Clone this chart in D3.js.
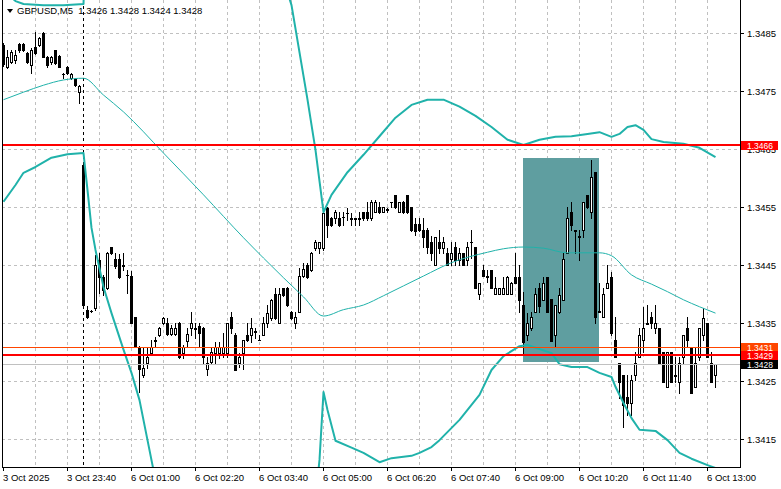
<!DOCTYPE html>
<html><head><meta charset="utf-8">
<script src="https://cdn.jsdelivr.net/npm/d3@7"></script>
<style>html,body{margin:0;padding:0;background:#fff;}svg{display:block;}</style>
</head><body>
<svg id="c" width="781" height="489"></svg>
<script>
// ---- DATA ----
const symbolTitle = "GBPUSD,M5";
const lastOHLC = ["1.3426", "1.3428", "1.3424", "1.3428"];
const opens = [1.34829,1.34791,1.34800,1.34803,1.34831,1.34831,1.34816,1.34795,1.34826,1.34829,
1.34850,1.34809,1.34800,1.34821,1.34810,1.34779,1.34791,1.34772,1.34771,1.34748,
1.34623,1.34373,1.34371,1.34376,1.34459,1.34429,1.34410,1.34481,1.34461,1.34461,
1.34450,1.34433,1.34431,1.34360,1.34309,1.34260,1.34281,1.34298,1.34319,1.34329,
1.34350,1.34350,1.34331,1.34331,1.34350,1.34298,1.34319,1.34341,1.34340,1.34345,
1.34341,1.34271,1.34283,1.34298,1.34298,1.34298,1.34298,1.34360,1.34329,1.34281,
1.34298,1.34329,1.34329,1.34335,1.34321,1.34329,1.34350,1.34359,1.34400,1.34350,
1.34410,1.34410,1.34369,1.34350,1.34369,1.34431,1.34450,1.34441,1.34479,1.34479,
1.34479,1.34548,1.34531,1.34531,1.34531,1.34533,1.34540,1.34531,1.34531,1.34531,
1.34541,1.34541,1.34531,1.34541,1.34550,1.34541,1.34545,1.34559,1.34571,1.34541,
1.34559,1.34571,1.34550,1.34521,1.34521,1.34510,1.34510,1.34490,1.34450,1.34490,
1.34479,1.34471,1.34461,1.34481,1.34459,1.34471,1.34459,1.34490,1.34481,1.34400,
1.34441,1.34431,1.34441,1.34400,1.34400,1.34400,1.34400,1.34400,1.34429,1.34429,
1.34381,1.34329,1.34341,1.34369,1.34410,1.34390,1.34429,1.34391,1.34329,1.34369,
1.34390,1.34471,1.34541,1.34510,1.34500,1.34510,1.34571,1.34541,1.34610,1.34369,
1.34360,1.34410,1.34429,1.34321,1.34281,1.34260,1.34223,1.34212,1.34260,1.34291,
1.34321,1.34350,1.34360,1.34341,1.34341,1.34300,1.34240,1.34300,1.34260,1.34248,
1.34291,1.34341,1.34309,1.34240,1.34291,1.34329,1.34350,1.34281,1.34260];
const highs = [1.34833,1.34821,1.34821,1.34821,1.34833,1.34833,1.34817,1.34824,1.34852,1.34843,
1.34852,1.34810,1.34810,1.34821,1.34812,1.34781,1.34793,1.34781,1.34772,1.34760,
1.34624,1.34379,1.34372,1.34467,1.34471,1.34433,1.34472,1.34481,1.34471,1.34469,
1.34471,1.34441,1.34440,1.34360,1.34310,1.34309,1.34309,1.34321,1.34326,1.34343,
1.34360,1.34359,1.34347,1.34350,1.34352,1.34312,1.34341,1.34369,1.34350,1.34350,
1.34343,1.34291,1.34307,1.34317,1.34317,1.34333,1.34350,1.34369,1.34333,1.34298,
1.34321,1.34350,1.34359,1.34341,1.34329,1.34360,1.34381,1.34391,1.34410,1.34410,
1.34410,1.34412,1.34371,1.34369,1.34445,1.34454,1.34454,1.34472,1.34493,1.34490,
1.34548,1.34550,1.34533,1.34545,1.34541,1.34541,1.34548,1.34540,1.34531,1.34541,
1.34541,1.34559,1.34562,1.34562,1.34559,1.34550,1.34548,1.34559,1.34571,1.34559,
1.34560,1.34571,1.34550,1.34531,1.34531,1.34531,1.34514,1.34500,1.34498,1.34510,
1.34498,1.34479,1.34490,1.34490,1.34479,1.34471,1.34490,1.34510,1.34481,1.34419,
1.34450,1.34441,1.34441,1.34429,1.34410,1.34429,1.34431,1.34421,1.34471,1.34450,
1.34404,1.34367,1.34369,1.34410,1.34419,1.34429,1.34429,1.34391,1.34381,1.34410,
1.34471,1.34550,1.34559,1.34510,1.34510,1.34559,1.34571,1.34631,1.34610,1.34419,
1.34410,1.34450,1.34438,1.34360,1.34281,1.34260,1.34260,1.34260,1.34300,1.34341,
1.34378,1.34381,1.34369,1.34381,1.34341,1.34300,1.34300,1.34300,1.34291,1.34291,
1.34329,1.34360,1.34309,1.34309,1.34341,1.34376,1.34350,1.34300,1.34280];
const lows = [1.34793,1.34790,1.34798,1.34798,1.34817,1.34819,1.34798,1.34781,1.34814,1.34828,
1.34809,1.34791,1.34797,1.34797,1.34791,1.34772,1.34779,1.34771,1.34759,1.34729,
1.34379,1.34359,1.34369,1.34373,1.34402,1.34398,1.34409,1.34469,1.34445,1.34428,
1.34441,1.34402,1.34350,1.34309,1.34231,1.34257,1.34272,1.34297,1.34310,1.34328,
1.34348,1.34329,1.34329,1.34329,1.34290,1.34290,1.34309,1.34329,1.34324,1.34310,
1.34281,1.34260,1.34279,1.34281,1.34290,1.34291,1.34291,1.34333,1.34269,1.34274,
1.34271,1.34319,1.34317,1.34324,1.34321,1.34329,1.34343,1.34355,1.34357,1.34350,
1.34397,1.34379,1.34357,1.34341,1.34369,1.34429,1.34428,1.34440,1.34476,1.34471,
1.34476,1.34498,1.34517,1.34522,1.34517,1.34519,1.34528,1.34519,1.34519,1.34519,
1.34528,1.34528,1.34528,1.34541,1.34540,1.34541,1.34541,1.34550,1.34548,1.34541,
1.34540,1.34540,1.34509,1.34502,1.34509,1.34481,1.34471,1.34459,1.34450,1.34471,
1.34471,1.34450,1.34450,1.34450,1.34450,1.34450,1.34450,1.34462,1.34410,1.34391,
1.34431,1.34421,1.34410,1.34400,1.34400,1.34400,1.34400,1.34400,1.34419,1.34369,
1.34298,1.34321,1.34338,1.34369,1.34369,1.34390,1.34369,1.34319,1.34309,1.34367,
1.34390,1.34471,1.34510,1.34471,1.34459,1.34498,1.34548,1.34531,1.34350,1.34369,
1.34360,1.34410,1.34329,1.34291,1.34221,1.34171,1.34191,1.34191,1.34252,1.34291,
1.34300,1.34350,1.34341,1.34333,1.34281,1.34248,1.34240,1.34248,1.34248,1.34229,
1.34281,1.34309,1.34229,1.34240,1.34286,1.34321,1.34291,1.34248,1.34240];
const closes = [1.34797,1.34809,1.34817,1.34812,1.34821,1.34821,1.34800,1.34821,1.34816,1.34841,
1.34809,1.34795,1.34809,1.34798,1.34791,1.34779,1.34781,1.34779,1.34760,1.34759,
1.34381,1.34360,1.34370,1.34450,1.34429,1.34407,1.34471,1.34471,1.34448,1.34429,
1.34448,1.34432,1.34350,1.34310,1.34271,1.34272,1.34291,1.34309,1.34321,1.34341,
1.34359,1.34331,1.34341,1.34341,1.34291,1.34309,1.34331,1.34350,1.34341,1.34333,
1.34291,1.34281,1.34300,1.34309,1.34309,1.34309,1.34350,1.34341,1.34269,1.34291,
1.34321,1.34321,1.34341,1.34336,1.34321,1.34350,1.34367,1.34390,1.34359,1.34400,
1.34398,1.34381,1.34359,1.34360,1.34431,1.34443,1.34429,1.34471,1.34490,1.34490,
1.34540,1.34519,1.34519,1.34541,1.34519,1.34532,1.34539,1.34530,1.34530,1.34530,
1.34531,1.34531,1.34559,1.34559,1.34541,1.34550,1.34546,1.34558,1.34550,1.34559,
1.34541,1.34541,1.34510,1.34509,1.34510,1.34498,1.34481,1.34471,1.34498,1.34479,
1.34490,1.34450,1.34471,1.34459,1.34471,1.34450,1.34481,1.34489,1.34410,1.34419,
1.34431,1.34430,1.34410,1.34410,1.34410,1.34410,1.34429,1.34419,1.34419,1.34390,
1.34317,1.34350,1.34360,1.34400,1.34379,1.34419,1.34369,1.34319,1.34381,1.34398,
1.34461,1.34531,1.34519,1.34509,1.34499,1.34559,1.34550,1.34602,1.34360,1.34371,
1.34400,1.34419,1.34333,1.34291,1.34248,1.34209,1.34212,1.34252,1.34281,1.34329,
1.34341,1.34349,1.34350,1.34350,1.34281,1.34248,1.34300,1.34248,1.34259,1.34281,
1.34329,1.34321,1.34229,1.34281,1.34341,1.34359,1.34291,1.34248,1.34280];

// Bollinger bands (bar index, price)
const upperIdx = [0,3,5,10,15,20,21,45,65,71,72,76,78,80,82,86,90,94,98,102,106,110,114,118,122,126,130,134,138,142,146,149,152,154,156,158,160,162,165,170,174,178];
const upperVal = [1.34924,1.34905,1.34900,1.34898,1.34898,1.34900,1.35100,1.35050,1.35000,1.34920,1.34898,1.34735,1.34648,1.34541,1.34571,1.34610,1.34640,1.34672,1.34704,1.34726,1.34735,1.34735,1.34723,1.34707,1.34688,1.34666,1.34657,1.34666,1.34671,1.34672,1.34676,1.34679,1.34671,1.34676,1.34688,1.34691,1.34683,1.34667,1.34662,1.34659,1.34652,1.34636];
const middleIdx = [0,5,10,15,20,25,30,40,50,60,65,70,75,80,85,90,95,100,105,112,121,125,130,135,141,149,152,157,162,166,170,174,178];
const middleVal = [1.34735,1.34748,1.34760,1.34769,1.34772,1.34743,1.34714,1.34643,1.34571,1.34497,1.34462,1.34428,1.34395,1.34362,1.34373,1.34381,1.34397,1.34414,1.34431,1.34454,1.34472,1.34478,1.34481,1.34479,1.34471,1.34471,1.34466,1.34433,1.34417,1.34404,1.34390,1.34378,1.34367];
const lowerIdx = [0,3,5,8,12,16,20,21,22,23,25,27,30,32,34,36,38,40,60,77,78,79,80,81,83,87,90,94,97,102,104,107,109,114,119,122,125,129,131,137,139,142,146,149,152,153,155,157,159,163,166,169,172,176,178];
const lowerVal = [1.34559,1.34588,1.34609,1.34619,1.34635,1.34641,1.34643,1.34579,1.34514,1.34476,1.34412,1.34367,1.34304,1.34264,1.34217,1.34148,1.34079,1.34010,1.33900,1.34000,1.34045,1.34114,1.34231,1.34200,1.34147,1.34135,1.34126,1.34110,1.34117,1.34121,1.34126,1.34136,1.34148,1.34183,1.34226,1.34269,1.34293,1.34310,1.34312,1.34298,1.34279,1.34274,1.34274,1.34264,1.34257,1.34240,1.34212,1.34186,1.34166,1.34164,1.34148,1.34126,1.34116,1.34105,1.34100];

const priceTicks = [1.3415,1.3425,1.3435,1.3445,1.3455,1.3465,1.3475,1.3485];
const timeLabelBars = [0,16,32,48,64,80,96,112,128,144,160,176];
const timeLabels = ["3 Oct 2025","3 Oct 23:40","6 Oct 01:00","6 Oct 02:20","6 Oct 03:40","6 Oct 05:00","6 Oct 06:20","6 Oct 07:40","6 Oct 09:00","6 Oct 10:20","6 Oct 11:40","6 Oct 13:00"];
const separatorBar = 20;
const gridEvery = 8;
const rectBars = [130,149];
const rectPrices = [1.34635,1.34283];
const levelPrices = [1.34657, 1.34309, 1.34295];
const levelLabels = ["1.3466", "1.3431", "1.3429"];
const levelColors = ["#ff0000", "#ff4500", "#ff0000"];
const levelWidths = [2, 1, 2];
const bidPrice = 1.3428;
const bidLabel = "1.3428";

// ---- LAYOUT ----
const L = 2, R = 740, T = 0, B = 467;
const n = opens.length;
const x = d3.scaleLinear().domain([0, n - 1]).range([3, 3 + 4 * (n - 1)]);
const y = d3.scaleLinear().domain([1.3415, 1.3485]).range([439, 33]);
const FONT = "'Liberation Sans', Arial, sans-serif";
const TEAL = "#20b2aa";

const svg = d3.select("#c");
svg.append("rect").attr("width", 781).attr("height", 489).attr("fill", "#fff");
svg.append("defs").append("clipPath").attr("id", "plot")
  .append("rect").attr("x", L + 1).attr("y", T).attr("width", R - L - 1).attr("height", B - T);

const g = svg.append("g").attr("clip-path", "url(#plot)");

// grid
g.selectAll("line.hg").data(priceTicks).join("line")
  .attr("x1", L).attr("x2", R)
  .attr("y1", d => Math.round(y(d)) + 0.5).attr("y2", d => Math.round(y(d)) + 0.5)
  .attr("stroke", "#c0c0c0").attr("stroke-dasharray", "3,3");
const gridBars = d3.range(gridEvery, n, gridEvery);
g.selectAll("line.vg").data(gridBars).join("line")
  .attr("x1", d => x(d) + 0.5).attr("x2", d => x(d) + 0.5)
  .attr("y1", T).attr("y2", B)
  .attr("stroke", "#c0c0c0").attr("stroke-dasharray", "3,3");

// rectangle object
g.append("rect")
  .attr("x", x(rectBars[0])).attr("width", x(rectBars[1]) - x(rectBars[0]))
  .attr("y", Math.round(y(rectPrices[0]))).attr("height", Math.round(y(rectPrices[1])) - Math.round(y(rectPrices[0])))
  .attr("fill", "#5f9ea0");

// period separator
g.append("line")
  .attr("x1", x(separatorBar) + 0.5).attr("x2", x(separatorBar) + 0.5)
  .attr("y1", T).attr("y2", B)
  .attr("stroke", "#000").attr("stroke-dasharray", "3,3");

// candles
const bars = d3.range(n).map(i => ({i, o: opens[i], h: highs[i], l: lows[i], c: closes[i]}));
const cg = g.append("g").attr("shape-rendering", "crispEdges");
bars.forEach(d => {
  const xc = x(d.i);
  const yH = Math.round(y(d.h)), yL = Math.round(y(d.l));
  const yTop = Math.round(y(Math.max(d.o, d.c))), yBot = Math.round(y(Math.min(d.o, d.c)));
  cg.append("line").attr("x1", xc + 0.5).attr("x2", xc + 0.5).attr("y1", yH).attr("y2", yL + 1).attr("stroke", "#000");
  if (yBot - yTop < 1) {
    cg.append("line").attr("x1", xc - 1).attr("x2", xc + 2).attr("y1", yTop + 0.5).attr("y2", yTop + 0.5).attr("stroke", "#000");
  } else if (d.c < d.o) {
    cg.append("rect").attr("x", xc - 1).attr("y", yTop).attr("width", 3).attr("height", yBot - yTop + 1).attr("fill", "#000");
  } else {
    cg.append("rect").attr("x", xc - 0.5).attr("y", yTop + 0.5).attr("width", 2).attr("height", yBot - yTop)
      .attr("fill", "#fff").attr("stroke", "#000");
  }
});

// bollinger bands
const lineM = d3.line().x(d => x(d[0]) + 0.5).y(d => y(d[1])).curve(d3.curveMonotoneX);
const lineB = d3.line().x(d => x(d[0]) + 0.5).y(d => y(d[1])).curve(d3.curveLinear);
const band = (idx, val) => idx.map((k, j) => [k, val[j]]);
g.append("path").attr("d", lineM(band(middleIdx, middleVal))).attr("fill", "none").attr("stroke", TEAL).attr("stroke-width", 1);
g.append("path").attr("d", lineB(band(upperIdx, upperVal))).attr("fill", "none").attr("stroke", TEAL).attr("stroke-width", 2).attr("stroke-linejoin", "round");
g.append("path").attr("d", lineB(band(lowerIdx, lowerVal))).attr("fill", "none").attr("stroke", TEAL).attr("stroke-width", 2).attr("stroke-linejoin", "round");

// bid line
g.append("line").attr("x1", L).attr("x2", R)
  .attr("y1", Math.round(y(bidPrice)) + 0.5).attr("y2", Math.round(y(bidPrice)) + 0.5)
  .attr("stroke", "#c0c0c0");

// horizontal level lines
levelPrices.forEach((p, k) => {
  const yy = levelWidths[k] === 2 ? Math.round(y(p)) : Math.round(y(p)) + 0.5;
  g.append("line").attr("x1", L).attr("x2", R).attr("y1", yy).attr("y2", yy)
    .attr("stroke", levelColors[k]).attr("stroke-width", levelWidths[k]);
});

// frame
const fr = svg.append("g").attr("shape-rendering", "crispEdges").attr("stroke", "#000");
fr.append("line").attr("x1", L + 0.5).attr("x2", L + 0.5).attr("y1", T).attr("y2", B + 1);
fr.append("line").attr("x1", R + 0.5).attr("x2", R + 0.5).attr("y1", T).attr("y2", B + 1);
fr.append("line").attr("x1", L).attr("x2", R + 1).attr("y1", B + 0.5).attr("y2", B + 0.5);

// right price axis
const ra = svg.append("g");
ra.selectAll("line").data(priceTicks).join("line")
  .attr("x1", R).attr("x2", R + 4)
  .attr("y1", d => Math.round(y(d)) + 0.5).attr("y2", d => Math.round(y(d)) + 0.5)
  .attr("stroke", "#000").attr("shape-rendering", "crispEdges");
ra.selectAll("text").data(priceTicks).join("text")
  .attr("x", 747).attr("y", d => y(d) + 3.5)
  .attr("font-family", FONT).attr("font-size", 9.5).attr("fill", "#000")
  .text(d => d3.format(".4f")(d));

// bottom time axis
const ba = svg.append("g");
ba.selectAll("line").data(timeLabelBars).join("line")
  .attr("x1", d => x(d) + 0.5).attr("x2", d => x(d) + 0.5)
  .attr("y1", B).attr("y2", B + 4)
  .attr("stroke", "#000").attr("shape-rendering", "crispEdges");
ba.selectAll("text").data(timeLabelBars).join("text")
  .attr("x", d => x(d)).attr("y", 480.5)
  .attr("font-family", FONT).attr("font-size", 9.5).attr("fill", "#000")
  .text((d, k) => timeLabels[k]);

// price labels for levels
function priceTag(p, label, bg, fg) {
  const yy = Math.round(y(p));
  svg.append("rect").attr("x", R + 1).attr("y", yy - 4).attr("width", 37).attr("height", 9).attr("fill", bg);
  svg.append("text").attr("x", 747).attr("y", yy + 3.5)
    .attr("font-family", FONT).attr("font-size", 8.5).attr("fill", fg).text(label);
}
priceTag(bidPrice, bidLabel, "#000", "#fff");
levelPrices.forEach((p, k) => priceTag(p, levelLabels[k], levelColors[k], "#fff"));

// title
svg.append("path").attr("d", "M7,9 L13,9 L10,13 Z").attr("fill", "#000");
svg.append("text").attr("x", 17).attr("y", 14)
  .attr("font-family", FONT).attr("font-size", 9.5).attr("fill", "#000")
  .attr("xml:space", "preserve")
  .text(symbolTitle + "  " + lastOHLC.join(" "));
</script>
</body></html>
